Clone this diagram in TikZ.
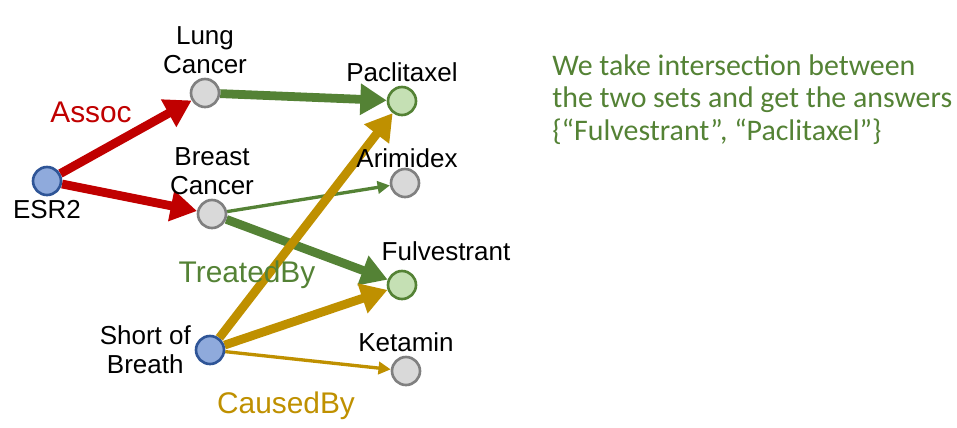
\documentclass[tikz,border=0pt]{standalone}
\usepackage{fontspec}
\setmainfont{Liberation Sans}
\newfontfamily\carlito{Carlito}
\usetikzlibrary{arrows.meta, backgrounds}
\definecolor{assocred}{HTML}{C00000}
\definecolor{treatgreen}{HTML}{548235}
\definecolor{causegold}{HTML}{BF9000}
\definecolor{qfill}{HTML}{8FAADC}
\definecolor{qline}{HTML}{2F5597}
\definecolor{afill}{HTML}{C5E0B4}

\begin{document}
\begin{tikzpicture}[x=0.02cm, y=-0.02cm,
  main/.style = {draw, circle, minimum size=0.56cm, inner sep=0pt, line width=1.5pt},
  ent/.style = {main, draw=gray, fill=gray!30},
  query/.style = {main, draw=qline, fill=qfill},
  ans/.style = {main, draw=treatgreen, fill=afill},
  lbl/.style = {font=\fontsize{14.8}{16.6}\selectfont, align=center, inner sep=2pt},
  rel/.style = {font=\fontsize{17}{20}\selectfont, anchor=base},
  big/.style = {line width=5pt, -{Triangle[length=15pt,width=17pt]}},
  small/.style = {line width=1.9pt, -{Triangle[length=7pt,width=7pt]}}]
  \useasboundingbox (0,0) rectangle (957,427);
  \node[query] (esr) [label={[lbl]below:ESR2}] at (47,181) {};
  \node[ent] (lung) [label={[lbl]above:Lung\\Cancer}] at (205,93) {};
  \node[ent] (breast) [label={[lbl]above:Breast\\Cancer}] at (212,214) {};
  \node[query] (sob) [label={[lbl]left:Short of\\Breath}] at (210,350) {};
  \node[ans] (pac) [label={[lbl]above:Paclitaxel}] at (402,101) {};
  \node[ent] (ari) [label={[lbl, inner sep=0pt, xshift=0.04cm]above:Arimidex}] at (405,183) {};
  \node[ans] (ful) [label={[lbl, xshift=0.88cm, yshift=0.1cm]above:Fulvestrant}] at (402,285) {};
  \node[ent] (ket) [label={[lbl]above:Ketamin}] at (406,371) {};
  \node[rel, text=assocred] (assoc) at (91,122) {Assoc};
  \node[rel, text=treatgreen] (treat) at (247,282) {TreatedBy};
  \node[rel, text=causegold] (cause) at (286,413) {CausedBy};
  \begin{scope}[on background layer]
    \draw[big, assocred] (esr) -- (lung);
    \draw[big, assocred] (esr) -- (breast);
    \draw[big, treatgreen] (lung) -- (pac);
    \draw[small, treatgreen] (breast) -- (ari);
    \draw[big, treatgreen] (breast) -- (ful);
    \draw[big, causegold] (sob) -- (pac);
    \draw[big, causegold] (sob) -- (ful);
    \draw[small, causegold] (sob) -- (ket);
  \end{scope}
  % the answer set
  \node[anchor=north west, inner sep=0pt, align=left, text=treatgreen,
    font=\carlito\fontsize{17}{18.7}\selectfont] (note) at (552,54)
    {We take intersection between\\the two sets and get the answers\\\{“Fulvestrant”, “Paclitaxel”\}};
\end{tikzpicture}
\end{document}
